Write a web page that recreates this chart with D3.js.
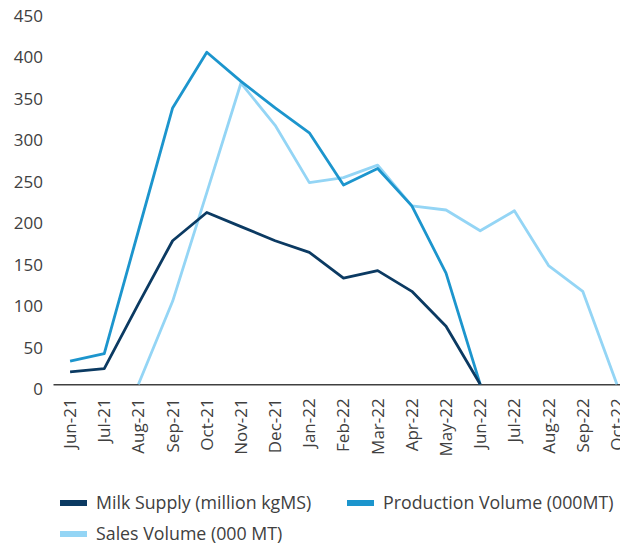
<!DOCTYPE html>
<html>
<head>
<meta charset="utf-8">
<script src="https://cdn.jsdelivr.net/npm/d3@7"></script>
<style>
  body { margin: 0; background: #fff; }
  text { font-family: "Open Sans", "Noto Sans", sans-serif; fill: #404040; }
</style>
</head>
<body>
<div id="my_dataviz"></div>
<script>
var width = 620,
    height = 546

var months = ["Jun-21", "Jul-21", "Aug-21", "Sep-21", "Oct-21", "Nov-21", "Dec-21", "Jan-22",
  "Feb-22", "Mar-22", "Apr-22", "May-22", "Jun-22", "Jul-22", "Aug-22", "Sep-22", "Oct-22"]

var milkSupply = [15, 19, 97, 173, 207, 190, 173, 159, 128, 137, 112, 70, 0, null, null, null, null]
var productionVolume = [28, 37, 185, 333, 400, 365, 333, 303, 240, 260, 215, 134, 0, null, null, null, null]
var salesVolume = [null, null, 0, 100, 231, 363, 312, 243, 249, 264, 215, 210, 185, 209, 143, 112, 0]

var yTicks = [0, 50, 100, 150, 200, 250, 300, 350, 400, 450]

var seriesNames = ["Milk Supply (million kgMS)", "Production Volume (000MT)", "Sales Volume (000 MT)"]
var seriesColors = ["#0b3a62", "#1c95cd", "#94d5f5"]

var svg = d3.select("#my_dataviz")
  .append("svg")
    .attr("width", width)
    .attr("height", height)

var x = d3.scaleBand()
  .domain(months)
  .range([53, 634])

var y = d3.scaleLinear()
  .domain([0, 450])
  .range([384.3, 10.8])

// y axis, labels only
var yAxis = svg.append("g")
  .attr("transform", "translate(53,0)")
  .call(d3.axisLeft(y).tickValues(yTicks).tickSize(0).tickPadding(10))
yAxis.select(".domain").remove()
yAxis.selectAll("text")
  .attr("dy", "0.9em")
  .attr("y", -5)
  .style("font-size", "17px")
  .style("fill", "#404040")

// x axis line + rotated labels
var xAxis = svg.append("g")
  .attr("transform", "translate(0," + y(0) + ")")
  .call(d3.axisBottom(x).tickSize(0).tickPadding(0))
xAxis.select(".domain")
  .attr("stroke", "#404040")
  .attr("stroke-width", 1.5)
xAxis.selectAll("text")
  .attr("transform", "rotate(-90)")
  .attr("x", -14)
  .attr("y", 0)
  .attr("dy", "0.35em")
  .style("text-anchor", "end")
  .style("font-size", "17px")
  .style("fill", "#404040")

var line = d3.line()
  .defined(function(d) { return d != null })
  .x(function(d, i) { return x(months[i]) + x.bandwidth() / 2 })
  .y(function(d) { return y(d) })

var allSeries = [milkSupply, productionVolume, salesVolume]
// draw light first so darker series sit on top
var order = [2, 1, 0]
order.forEach(function(k) {
  svg.append("path")
    .datum(allSeries[k])
    .attr("fill", "none")
    .attr("stroke", seriesColors[k])
    .attr("stroke-width", 2.8)
    .attr("stroke-linejoin", "round")
    .attr("d", line)
})

// legend
var legendItems = [
  {x: 60, y: 503},
  {x: 347, y: 503},
  {x: 60, y: 534}
]
var legend = svg.selectAll("legendItems")
  .data(legendItems)
  .enter()
  .append("g")
    .attr("transform", function(d) { return "translate(" + d.x + "," + d.y + ")" })
legend.append("rect")
  .attr("x", 0)
  .attr("y", -3)
  .attr("width", 27)
  .attr("height", 6)
  .attr("fill", function(d, i) { return seriesColors[i] })
legend.append("text")
  .attr("x", 36)
  .attr("y", 0)
  .attr("dy", "0.35em")
  .style("font-size", "17.8px")
  .text(function(d, i) { return seriesNames[i] })
</script>
</body>
</html>
